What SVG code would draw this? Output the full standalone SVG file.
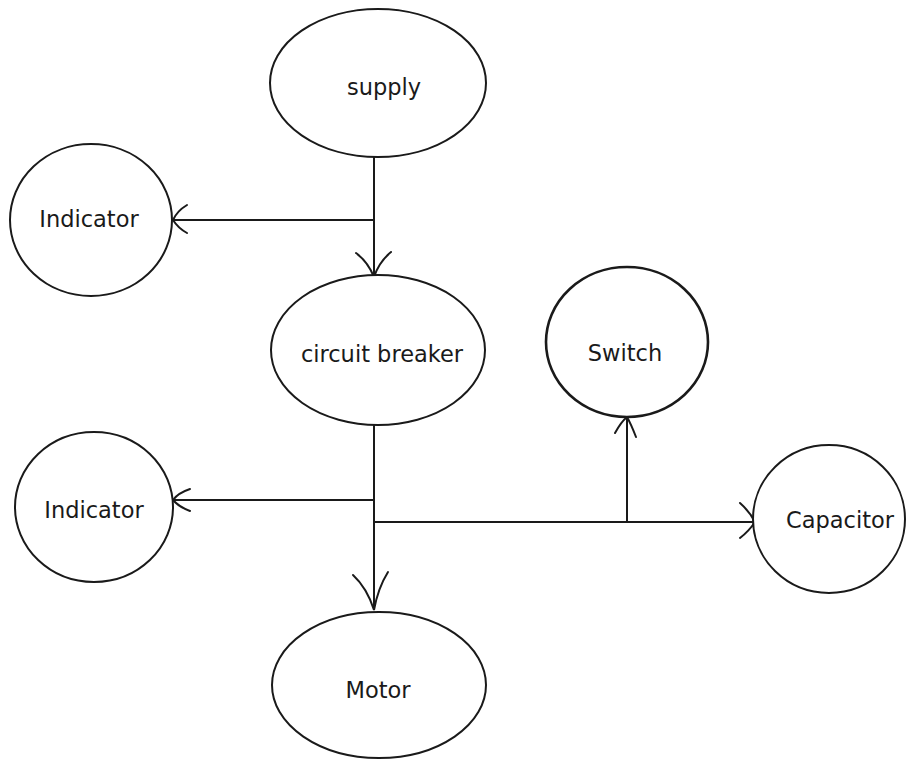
<svg xmlns="http://www.w3.org/2000/svg" width="906" height="760" viewBox="0 0 906 760">
<style>
.node ellipse{fill:#fff;stroke:#1a1a1a;stroke-width:2}
.node.thick ellipse{stroke-width:2.6}
.node text{font-family:"DejaVu Sans",Verdana,sans-serif;font-size:22.5px;fill:#1a1a1a;text-anchor:middle}
.wire{stroke:#1a1a1a;stroke-width:2;fill:none}
.head{stroke:#1a1a1a;stroke-width:2;fill:none;stroke-linecap:round}
</style>
<rect width="906" height="760" fill="#fff"/>
<g id="connectors">
<line class="wire" x1="374" y1="157" x2="374" y2="277"/>
<line class="wire" x1="374" y1="220" x2="173" y2="220"/>
<line class="wire" x1="374" y1="425" x2="374" y2="610"/>
<line class="wire" x1="374" y1="500" x2="173" y2="500"/>
<line class="wire" x1="374" y1="522" x2="755" y2="522"/>
<line class="wire" x1="627" y1="522" x2="627" y2="417"/>
<path class="head" d="M356,253 Q368,262 374,277 Q379,262 391,252"/>
<path class="head" d="M187,205 Q177,211 173,220 Q178,228 187,233"/>
<path class="head" d="M353,575 Q367,588 374,610 Q378,588 388,572"/>
<path class="head" d="M190,489 Q178,493 173,500 Q179,507 190,511"/>
<path class="head" d="M740,503 Q750,512 755,522 Q749,531 740,538"/>
<path class="head" d="M615,433 Q621,422 627,417 Q631,424 636,437"/>
</g>
<g id="supply" class="node"><ellipse cx="378" cy="83" rx="108" ry="74"/><text x="384" y="95">supply</text></g>
<g id="indicator1" class="node"><ellipse cx="91" cy="220" rx="81" ry="76"/><text x="89" y="227">Indicator</text></g>
<g id="circuit-breaker" class="node"><ellipse cx="378" cy="350" rx="107" ry="75"/><text x="382" y="362">circuit breaker</text></g>
<g id="switch" class="node thick"><ellipse cx="627" cy="342" rx="81" ry="75"/><text x="625" y="361">Switch</text></g>
<g id="indicator2" class="node"><ellipse cx="94" cy="507" rx="79" ry="75"/><text x="94" y="518">Indicator</text></g>
<g id="capacitor" class="node"><ellipse cx="829" cy="519" rx="76" ry="74"/><text x="840" y="528">Capacitor</text></g>
<g id="motor" class="node"><ellipse cx="379" cy="685" rx="107" ry="73"/><text x="378" y="698">Motor</text></g>
</svg>
